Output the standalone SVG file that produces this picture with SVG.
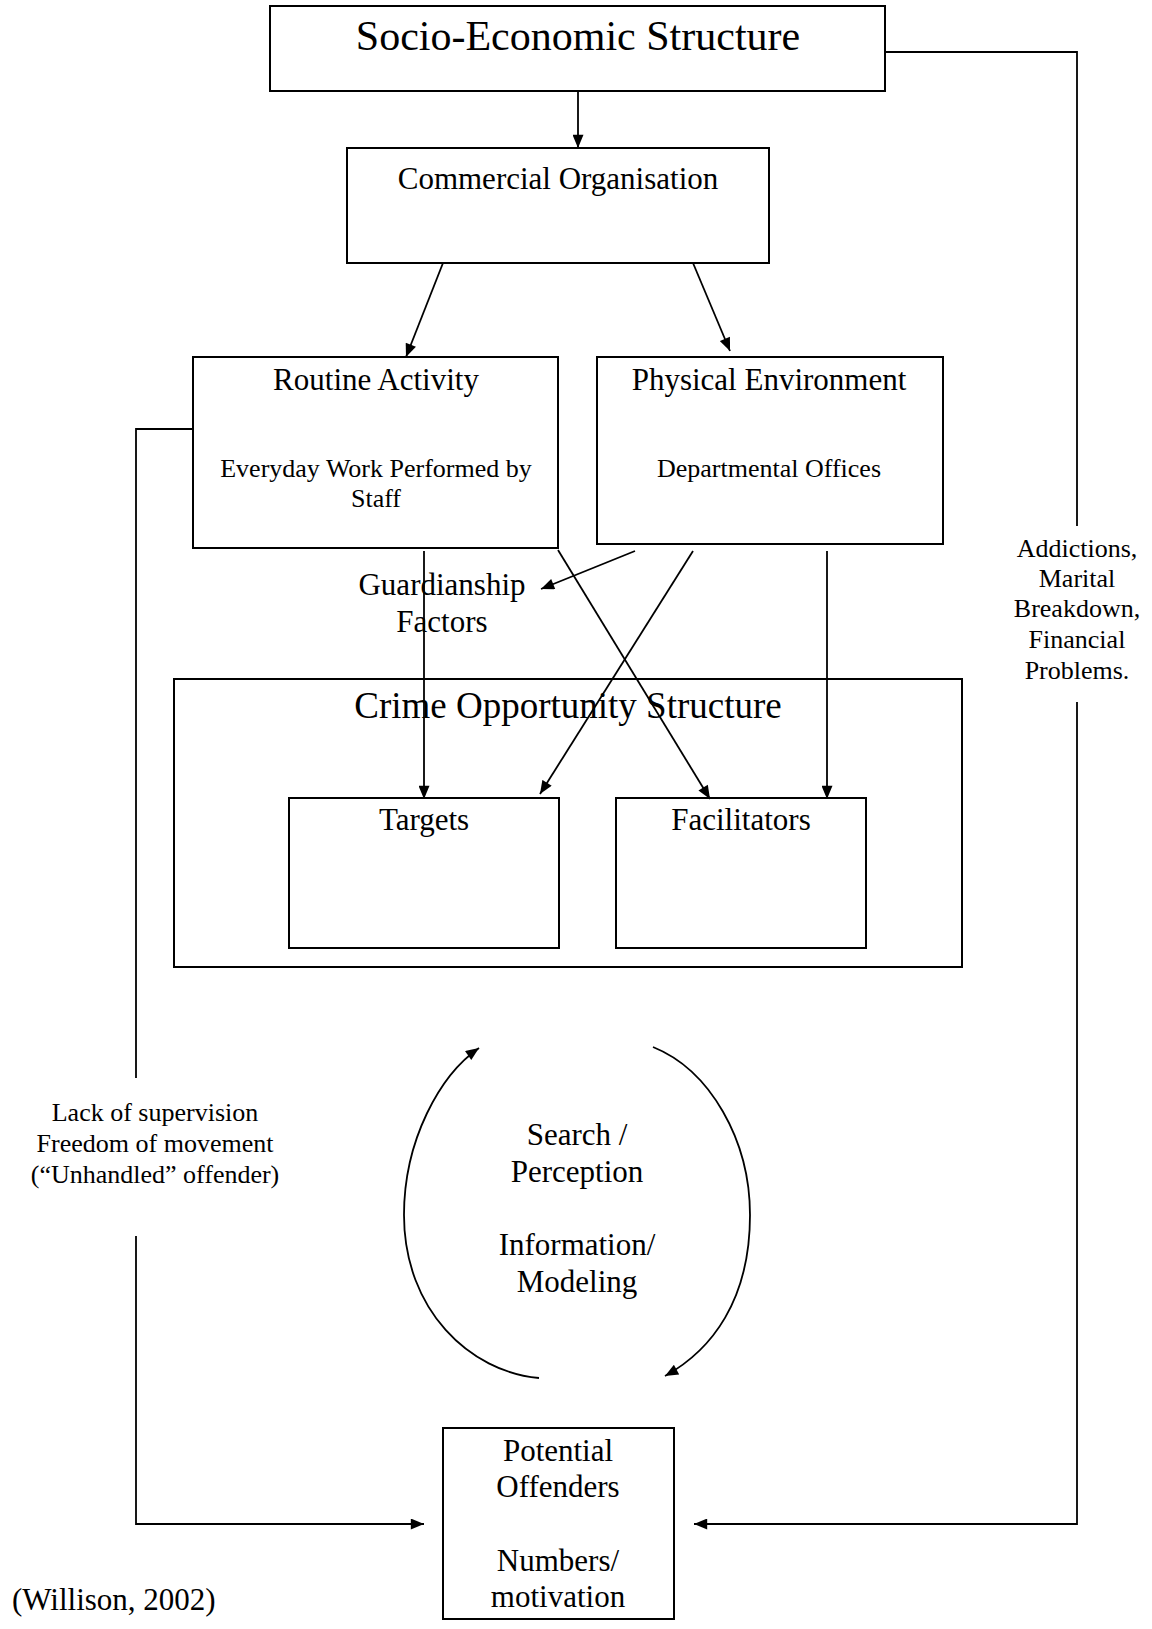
<svg xmlns="http://www.w3.org/2000/svg" width="1152" height="1629" viewBox="0 0 1152 1629">
<style>
text{font-family:"Liberation Serif","Times New Roman",serif;fill:#000;text-anchor:middle}
.box{fill:#fff;stroke:#000;stroke-width:2}
.ln{fill:none;stroke:#000;stroke-width:1.8}
.t42{font-size:42px}.t37{font-size:37px}.t31{font-size:31px}.t26{font-size:26px}
</style>
<defs>
<marker id="ah" viewBox="0 0 12 10" refX="12" refY="5" markerWidth="15" markerHeight="11" markerUnits="userSpaceOnUse" orient="auto">
<path d="M0,0 L12,5 L0,10 z" fill="#000"/>
</marker>
</defs>
<rect width="1152" height="1629" fill="#fff"/>
<g id="socio"><rect class="box" x="270" y="6" width="615" height="85"/><text class="t42" x="578" y="50">Socio-Economic Structure</text></g>
<g id="commercial"><rect class="box" x="347" y="148" width="422" height="115"/><text class="t31" x="558" y="189">Commercial Organisation</text></g>
<g id="routine"><rect class="box" x="193" y="357" width="365" height="191"/><text class="t31" x="376" y="390">Routine Activity</text><text class="t26" x="376" y="477">Everyday Work Performed by</text><text class="t26" x="376" y="507">Staff</text></g>
<g id="physical"><rect class="box" x="597" y="357" width="346" height="187"/><text class="t31" x="769" y="390">Physical Environment</text><text class="t26" x="769" y="477">Departmental Offices</text></g>
<g id="guardianship"><text class="t31" x="442" y="595">Guardianship</text><text class="t31" x="442" y="632">Factors</text></g>
<g id="crime"><rect class="box" x="174" y="679" width="788" height="288"/><text class="t37" x="568" y="718">Crime Opportunity Structure</text></g>
<g id="targets"><rect class="box" x="289" y="798" width="270" height="150"/><text class="t31" x="424" y="830">Targets</text></g>
<g id="facilitators"><rect class="box" x="616" y="798" width="250" height="150"/><text class="t31" x="741" y="830">Facilitators</text></g>
<g id="search"><text class="t31" x="577" y="1145">Search /</text><text class="t31" x="577" y="1182">Perception</text><text class="t31" x="577" y="1255">Information/</text><text class="t31" x="577" y="1292">Modeling</text></g>
<g id="offenders"><rect class="box" x="443" y="1428" width="231" height="191"/><text class="t31" x="558" y="1461">Potential</text><text class="t31" x="558" y="1497">Offenders</text><text class="t31" x="558" y="1571">Numbers/</text><text class="t31" x="558" y="1607">motivation</text></g>
<g id="lack-label"><text class="t26" x="155" y="1121">Lack of supervision</text><text class="t26" x="155" y="1152">Freedom of movement</text><text class="t26" x="155" y="1183">(“Unhandled” offender)</text></g>
<g id="addictions-label"><text class="t26" x="1077" y="557">Addictions,</text><text class="t26" x="1077" y="587">Marital</text><text class="t26" x="1077" y="617">Breakdown,</text><text class="t26" x="1077" y="648">Financial</text><text class="t26" x="1077" y="679">Problems.</text></g>
<g id="citation"><text class="t31" x="12" y="1610" style="text-anchor:start">(Willison, 2002)</text></g>
<g id="connectors">
<path class="ln" d="M578,91 L578,148" marker-end="url(#ah)"/>
<path class="ln" d="M443,263 L406,357" marker-end="url(#ah)"/>
<path class="ln" d="M693,263 L730,351" marker-end="url(#ah)"/>
<path class="ln" d="M635,551 L541,589" marker-end="url(#ah)"/>
<path class="ln" d="M424,551 L424,799" marker-end="url(#ah)"/>
<path class="ln" d="M558,550 L710,799" marker-end="url(#ah)"/>
<path class="ln" d="M693,551 L540,794" marker-end="url(#ah)"/>
<path class="ln" d="M827,551 L827,799" marker-end="url(#ah)"/>
<path class="ln" d="M193,429 L136,429 L136,1078"/>
<path class="ln" d="M136,1236 L136,1524 L424,1524" marker-end="url(#ah)"/>
<path class="ln" d="M885,52 L1077,52 L1077,526"/>
<path class="ln" d="M1077,702 L1077,1524 L694,1524" marker-end="url(#ah)"/>
<path class="ln" d="M539,1378 C470,1372 404,1310 404,1215 C404,1140 440,1075 479,1048" marker-end="url(#ah)"/>
<path class="ln" d="M653,1047 C710,1070 750,1140 750,1215 C750,1300 712,1350 665,1376" marker-end="url(#ah)"/>
</g>
</svg>
